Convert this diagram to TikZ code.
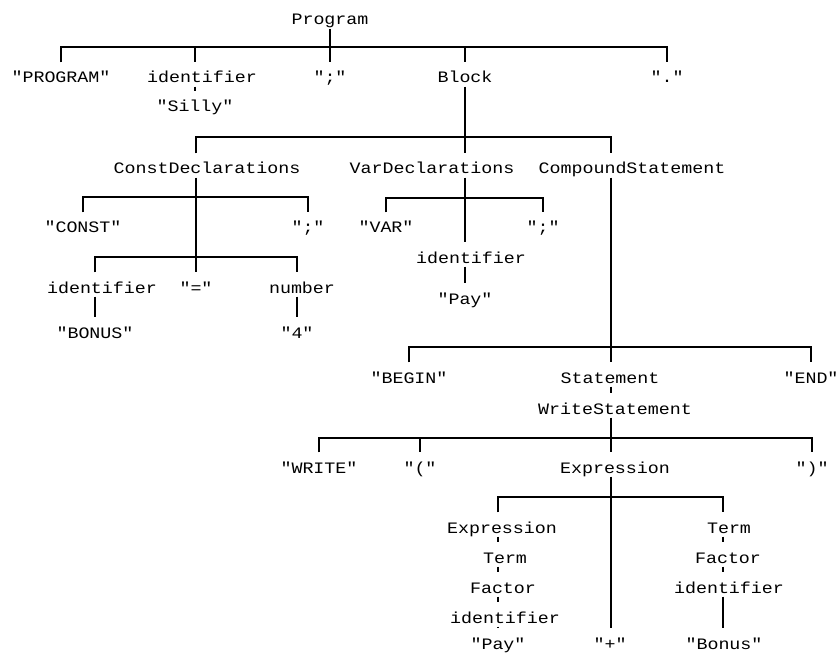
\documentclass[tikz,border=0pt]{standalone}
\usepackage{fontspec}
\newfontfamily\treefont[FakeStretch=1.15]{Liberation Mono}

\begin{document}
\begin{tikzpicture}[x=0.03cm, y=-0.03cm, line width=1.1pt]

        % Node look for the parse tree: anchored on the baseline, padding above
        % so that the stems stop a little short of the text
        \tikzset{tn/.style={font=\treefont\fontsize{13.6pt}{14pt}\selectfont, anchor=base,
            inner xsep=1pt, inner ysep=1pt, text height=16pt, text depth=1.5pt}}

        \useasboundingbox (0,0) rectangle (840,653);

        % --- Stem columns and bar levels (pixels of the original) ---
        \coordinate (pidx) at (195,0);
        \coordinate (cdx) at (196,0);
        \coordinate (vdx) at (465,0);
        \coordinate (csx) at (611,0);
        \coordinate (cidx) at (95,0);
        \coordinate (numx) at (297,0);
        \coordinate (lx) at (498,0);
        \coordinate (rx) at (723,0);
        \coordinate (b1) at (0,47);
        \coordinate (b2) at (0,137);
        \coordinate (b3) at (0,197);
        \coordinate (b4) at (0,257);
        \coordinate (b5) at (0,198);
        \coordinate (b6) at (0,347);
        \coordinate (b7) at (0,438);
        \coordinate (b8) at (0,497);

        % --- Nodes, row by row (x = text centre, y = baseline) ---
        \node[tn] (prog) at (330,25) {Program};

        \node[tn] (kwprog) at (61,83) {"PROGRAM"};
        \node[tn] (pid) at (202,83) {identifier};
        \node[tn] (semi) at (330,83) {";"};
        \node[tn] (block) at (465,83) {Block};
        \node[tn] (dot) at (667,83) {"."};
        \node[tn] (silly) at (195,112) {"Silly"};

        \node[tn] (cdecl) at (207,174) {ConstDeclarations};
        \node[tn] (vdecl) at (432,174) {VarDeclarations};
        \node[tn] (cstmt) at (632,174) {CompoundStatement};

        \node[tn] (kwconst) at (83,233) {"CONST"};
        \node[tn] (csemi) at (308,233) {";"};
        \node[tn] (kwvar) at (386,233) {"VAR"};
        \node[tn] (vsemi) at (543,233) {";"};
        \node[tn] (vid) at (471,263) {identifier};
        \node[tn] (cid) at (102,293) {identifier};
        \node[tn] (eq) at (196,293) {"="};
        \node[tn] (num) at (302,293) {number};
        \node[tn] (vpay) at (465,304) {"Pay"};
        \node[tn] (bonus) at (95,338) {"BONUS"};
        \node[tn] (four) at (297,338) {"4"};

        \node[tn] (kwbegin) at (409,383) {"BEGIN"};
        \node[tn] (stmt) at (610,383) {Statement};
        \node[tn] (kwend) at (811,383) {"END"};
        \node[tn] (wstmt) at (615,414) {WriteStatement};

        \node[tn] (kwwrite) at (319,473) {"WRITE"};
        \node[tn] (lpar) at (420,473) {"("};
        \node[tn] (expr) at (615,473) {Expression};
        \node[tn] (rpar) at (812,473) {")"};

        \node[tn] (lexpr) at (502,533) {Expression};
        \node[tn] (rterm) at (729,533) {Term};
        \node[tn] (lterm) at (505,563) {Term};
        \node[tn] (rfac) at (728,563) {Factor};
        \node[tn] (lfac) at (503,593) {Factor};
        \node[tn] (rid) at (729,593) {identifier};
        \node[tn] (lid) at (505,623) {identifier};
        \node[tn] (lpay) at (498,649) {"Pay"};
        \node[tn] (plus) at (610,649) {"+"};
        \node[tn] (rbonus) at (724,649) {"Bonus"};

        % --- Program ---
        \draw (prog.south) -- (prog.south |- semi.north);
        \draw (kwprog.north) -- (kwprog.north |- b1) -- (dot.north |- b1) -- (dot.north);
        \draw (pidx |- b1) -- (pidx |- pid.north);
        \draw (block.north |- b1) -- (block.north);
        \draw (pidx |- pid.south) -- (pidx |- silly.north);

        % --- Block ---
        \draw (block.south) -- (block.south |- b2);
        \draw (cdx |- cdecl.north) -- (cdx |- b2) -- (csx |- b2) -- (csx |- cstmt.north);
        \draw (vdx |- b2) -- (vdx |- vdecl.north);

        % --- ConstDeclarations (the middle stem runs on to the "=" group) ---
        \draw (cdx |- cdecl.south) -- (eq.north);
        \draw (kwconst.north) -- (kwconst.north |- b3) -- (csemi.north |- b3) -- (csemi.north);
        \draw (cidx |- cid.north) -- (cidx |- b4) -- (numx |- b4) -- (numx |- num.north);
        \draw (cidx |- cid.south) -- (bonus.north);
        \draw (numx |- num.south) -- (four.north);

        % --- VarDeclarations ---
        \draw (vdx |- vdecl.south) -- (vdx |- vid.north);
        \draw (kwvar.north) -- (kwvar.north |- b5) -- (vsemi.north |- b5) -- (vsemi.north);
        \draw (vdx |- vid.south) -- (vpay.north);

        % --- CompoundStatement ---
        \draw (csx |- cstmt.south) -- (csx |- stmt.north);
        \draw (kwbegin.north) -- (kwbegin.north |- b6) -- (kwend.north |- b6) -- (kwend.north);
        \draw (csx |- stmt.south) -- (csx |- wstmt.north);

        % --- WriteStatement ---
        \draw (csx |- wstmt.south) -- (csx |- expr.north);
        \draw (kwwrite.north) -- (kwwrite.north |- b7) -- (rpar.north |- b7) -- (rpar.north);
        \draw (lpar.north |- b7) -- (lpar.north);

        % --- Expression ---
        \draw (csx |- expr.south) -- (csx |- plus.north);
        \draw (lx |- lexpr.north) -- (lx |- b8) -- (rx |- b8) -- (rx |- rterm.north);

        % single-child chains down to the leaves
        \foreach \a/\b in {lexpr/lterm, lterm/lfac, lfac/lid, lid/lpay}
            \draw (lx |- \a.south) -- (lx |- \b.north);
        \foreach \a/\b in {rterm/rfac, rfac/rid, rid/rbonus}
            \draw (rx |- \a.south) -- (rx |- \b.north);

    \end{tikzpicture}
\end{document}
